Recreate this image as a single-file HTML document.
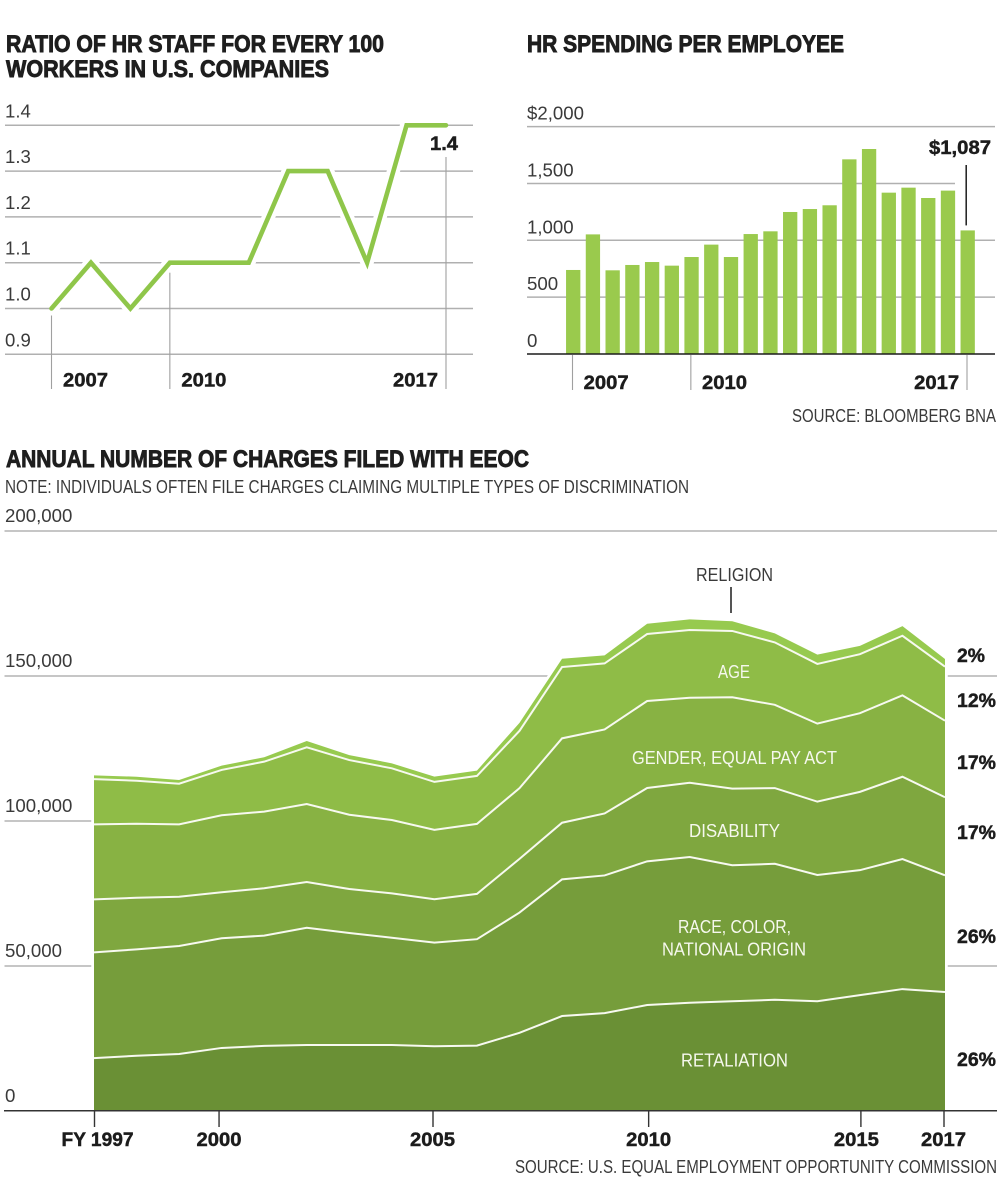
<!DOCTYPE html>
<html lang="en">
<head>
<meta charset="utf-8">
<title>HR staffing, spending and EEOC charges</title>
<style>
html,body{margin:0;padding:0;background:#fff}
svg{display:block}
text{font-family:"Liberation Sans",sans-serif;fill:#2b2b2b}
.title{font-size:24px;font-weight:700;fill:#1e1e1e;stroke:#1e1e1e;stroke-width:.9px}
.light{font-size:18px;fill:#3a3a3a}
.strong{font-size:19px;font-weight:700;fill:#1c1c1c;stroke:#1c1c1c;stroke-width:.45px}
.inner{font-size:18.5px;fill:#f6f8ee}
</style>
</head>
<body>
<svg id="fig" xmlns="http://www.w3.org/2000/svg" width="1002" height="1200" viewBox="0 0 1002 1200">
  <text class="title" x="6" y="52" textLength="378" lengthAdjust="spacingAndGlyphs">RATIO OF HR STAFF FOR EVERY 100</text>
  <text class="title" x="6" y="77" textLength="323" lengthAdjust="spacingAndGlyphs">WORKERS IN U.S. COMPANIES</text>
  <text class="title" x="527" y="52" textLength="317" lengthAdjust="spacingAndGlyphs">HR SPENDING PER EMPLOYEE</text>
  <text class="light" x="792" y="422" textLength="204" lengthAdjust="spacingAndGlyphs">SOURCE: BLOOMBERG BNA</text>
  <text class="title" x="6" y="467" textLength="523" lengthAdjust="spacingAndGlyphs">ANNUAL NUMBER OF CHARGES FILED WITH EEOC</text>
  <text class="light" x="5" y="493" textLength="684" lengthAdjust="spacingAndGlyphs">NOTE: INDIVIDUALS OFTEN FILE CHARGES CLAIMING MULTIPLE TYPES OF DISCRIMINATION</text>
  <text class="light" x="515" y="1173" textLength="482" lengthAdjust="spacingAndGlyphs">SOURCE: U.S. EQUAL EMPLOYMENT OPPORTUNITY COMMISSION</text>
</svg>
<script>
/* ---------- Ratio line chart data ---------- */
const ratioYears = [2007,2008,2009,2010,2011,2012,2013,2014,2015,2016,2017];
const ratioValues = [1.0,1.1,1.0,1.1,1.1,1.1,1.3,1.3,1.1,1.4,1.4];
const ratioTicks = [0.9,1.0,1.1,1.2,1.3,1.4];
const ratioTickLabels = ['0.9','1.0','1.1','1.2','1.3','1.4'];
const ratioYearTicks = [2007,2010,2017];
const ratioCallout = '1.4';

/* ---------- Spending bar chart data ---------- */
const spendPeriods = [2007,2007.5,2008,2008.5,2009,2009.5,2010,2010.5,2011,2011.5,2012,2012.5,2013,2013.5,2014,2014.5,2015,2015.5,2016,2016.5,2017];
const spendValues = [739,1052,736,783,809,777,853,962,853,1055,1079,1249,1275,1308,1712,1803,1419,1463,1372,1437,1087];
const spendTicks = [0,500,1000,1500,2000];
const spendTickLabels = ['0','500','1,000','1,500','$2,000'];
const spendYearTicks = [2007,2010,2017];
const spendCallout = '$1,087';

/* ---------- EEOC stacked area data ---------- */
const chargeYears = [1997,1998,1999,2000,2001,2002,2003,2004,2005,2006,2007,2008,2009,2010,2011,2012,2013,2014,2015,2016,2017];
const retaliation = [17900,18700,19300,21400,22100,22400,22400,22400,22000,22200,26600,32400,33400,36200,37000,37500,38000,37500,39600,41700,40700];
const raceColorOrigin = [36450,36700,37240,37830,38030,40450,38620,37000,35720,36700,41480,47140,47480,49550,50240,46900,46900,43550,43100,44830,40240];
const disability = [18280,17790,17000,15860,16340,15760,15170,15310,14970,15620,18520,19520,21380,25280,25620,26410,26100,25280,27000,28380,26900];
const genderEqualPay = [25860,25520,24970,26550,26410,26900,25620,25280,23900,24140,24380,29100,28970,30000,29310,31520,28720,26900,27140,28070,26410];
const age = [15620,14830,14000,15620,17240,19550,18860,17830,16550,16550,19760,24590,22760,23100,23340,22860,21520,20590,20340,20550,18620];
const religion = [1280,1380,1280,1480,1520,2170,1720,1720,1830,1830,2760,2860,2760,3550,3690,3340,3100,3210,2860,3340,2660];
const chargeTicks = [0,50000,100000,150000,200000];
const chargeTickLabels = ['0','50,000','100,000','150,000','200,000'];
const chargeYearTicks = [1997,2000,2005,2010,2015,2017];
const chargeYearLabels = ['FY 1997','2000','2005','2010','2015','2017'];
const sharePercents = ['26%','26%','17%','17%','12%','2%'];

const NS = 'http://www.w3.org/2000/svg';
const fig = document.getElementById('fig');

function make(tag, attrs, parent) {
  const el = document.createElementNS(NS, tag);
  for (const k in attrs) el.setAttribute(k, attrs[k]);
  (parent || fig).appendChild(el);
  return el;
}
function lightWidth(s) {
  const digits = s.replace(/[^0-9$]/g, '').length;
  return digits * 10.4 + (s.length - digits) * 5;
}
function label(str, x, y, cls, width, anchor, parent) {
  const t = make('text', {x: x, y: y, class: cls, textLength: width, lengthAdjust: 'spacingAndGlyphs', 'text-anchor': anchor || 'start'}, parent);
  t.textContent = str;
  return t;
}

/* ---------- Ratio line chart ---------- */
const ratioG = make('g', {});


const ratioX = v => 51.5 + (v - 2007) * 39.45;
const ratioY = v => 308.5 - (v - 1.0) * 458;

ratioTicks.forEach((t, i) => {
  const g = make('line', {x1: 5, x2: 473, y1: ratioY(t), y2: ratioY(t), stroke: '#b0b0b0', 'stroke-width': 1.5}, ratioG);
  
  
  const l = label(ratioTickLabels[i], 5, ratioY(t) - 8, 'light', lightWidth(ratioTickLabels[i]), 'start', ratioG);
  
  
});
const ratioHaloPts = ratioYears.map((y, i) => ratioX(y) + ',' + ratioY(ratioValues[i])).join(' ');
const ratioHalo = make('polyline', {points: ratioHaloPts, fill: 'none', stroke: '#fff', 'stroke-width': 13, 'stroke-linejoin': 'miter', 'stroke-linecap': 'butt'}, ratioG);


ratioYearTicks.forEach(y => {
  const idx = ratioYears.indexOf(y);
  const top = y === 2017 ? 157 : ratioY(ratioValues[idx]) + (y === 2007 ? 7 : 10);
  const m = make('line', {x1: ratioX(y), x2: ratioX(y), y1: top, y2: 389, stroke: '#a0a0a0', 'stroke-width': 1.1}, ratioG);
  
  
  const l = label(String(y), ratioX(y) + (y === 2017 ? -53 : 11.5), 386.5, 'strong', 45, 'start', ratioG);
  
  
});
const ratioLine = make('polyline', {points: ratioHaloPts, fill: 'none', stroke: '#8fc64a', 'stroke-width': 4.6, 'stroke-linejoin': 'miter', 'stroke-linecap': 'round'}, ratioG);


const ratioVal = label(ratioCallout, 430, 150, 'strong', 28, 'start', ratioG);



/* ---------- Spending bar chart ---------- */
const spendG = make('g', {});


const spendX = v => 573.2 + (v - 2007) * 39.45;
const spendY = v => 354 - v * 0.1137;
const BAR_W = 14.3;

spendTicks.forEach((t, i) => {
  const isBase = t === 0;
  const g = make('line', {x1: 527, x2: t === 1500 ? 955 : 995, y1: spendY(t), y2: spendY(t), stroke: '#b0b0b0', 'stroke-width': 1.5}, spendG);
  
  
  if (isBase) g.setAttribute('opacity', '0');
  const l = label(spendTickLabels[i], 527, spendY(t) - 7, 'light', lightWidth(spendTickLabels[i]), 'start', spendG);
  
  
});
spendPeriods.forEach((p, i) => {
  const b = make('rect', {x: spendX(p) - BAR_W / 2, y: spendY(spendValues[i]), width: BAR_W, height: spendY(0) - spendY(spendValues[i]), fill: '#9aca4d'}, spendG);
  
  
});
const spendBase = make('line', {x1: 527, x2: 995, y1: spendY(0), y2: spendY(0), stroke: '#1c1c1c', 'stroke-width': 1.6}, spendG);


spendYearTicks.forEach(y => {
  const m = make('line', {x1: spendX(y) - 0.7, x2: spendX(y) - 0.7, y1: 355, y2: 390, stroke: '#a0a0a0', 'stroke-width': 1.1}, spendG);
  
  
  const l = label(String(y), spendX(y) + (y === 2017 ? -53.5 : 10.5), 389, 'strong', 45, 'start', spendG);
  
  
});
const lastSpend = spendValues[spendValues.length - 1];
const spendLeader = make('line', {x1: spendX(2017) - 1.5, x2: spendX(2017) - 1.5, y1: 165, y2: spendY(lastSpend) - 5, stroke: '#1c1c1c', 'stroke-width': 1.5}, spendG);


const spendVal = label(spendCallout, 929, 154, 'strong', 62, 'start', spendG);



/* ---------- EEOC stacked area ---------- */
const chargeG = make('g', {});


const chargeX = v => 94 + (v - 1997) * 42.55;
const chargeY = v => 1110 - v * 0.0029;

chargeTicks.forEach((t, i) => {
  if (t > 0) {
    const g = make('line', {x1: 4.5, x2: t === 100000 ? 92 : 997, y1: chargeY(t) + 1, y2: chargeY(t) + 1, stroke: '#b4b4b4', 'stroke-width': 1.5}, chargeG);
    
    
  }
  const l = label(chargeTickLabels[i], 5, chargeY(t) - 8, 'light', lightWidth(chargeTickLabels[i]), 'start', chargeG);
  
  
});

const layers = [retaliation, raceColorOrigin, disability, genderEqualPay, age, religion];
const layerColors = ['#6a9035', '#769d3b', '#7fa73f', '#88b243', '#8fbc47', '#97ca4f'];
const layerNames = ['retaliation', 'race-color-origin', 'disability', 'gender-equal-pay', 'age', 'religion'];
const stacks = [];
let running = chargeYears.map(() => 0);
layers.forEach(series => {
  const base = running;
  const top = series.map((v, i) => base[i] + v);
  stacks.push({base: base, top: top});
  running = top;
});
const linePts = arr => chargeYears.map((y, i) => chargeX(y) + ',' + chargeY(arr[i]));

const outer = linePts(stacks[5].top).concat([chargeX(2017) + ',' + chargeY(0), chargeX(1997) + ',' + chargeY(0)]).join(' ');
const areaHalo = make('polygon', {points: outer, fill: '#fff', stroke: '#fff', 'stroke-width': 5.5, 'stroke-linejoin': 'miter'}, chargeG);



layers.forEach((series, k) => {
  const s = stacks[k];
  const pts = linePts(s.top).concat(linePts(s.base).reverse()).join(' ');
  const a = make('polygon', {points: pts, fill: layerColors[k]}, chargeG);
  
  
});
for (let k = 0; k < 5; k++) {
  const l = make('polyline', {points: linePts(stacks[k].top).join(' '), fill: 'none', stroke: '#f7f9f0', 'stroke-width': 2, 'stroke-linejoin': 'miter'}, chargeG);
  
  
}
const chargeBase = make('line', {x1: 4, x2: 997, y1: chargeY(0) + 0.8, y2: chargeY(0) + 0.8, stroke: '#333', 'stroke-width': 1.5}, chargeG);



/* Printed axis in the source sits slightly off a strict linear year scale */
const tickNudge = {1997: 0.5, 2000: -2.6, 2005: -1.4, 2010: 1.5, 2015: 1, 2017: -1};
const labelShift = {1997: -33, 2000: -22.5, 2005: -23, 2010: -22.5, 2015: -27, 2017: -23};
chargeYearTicks.forEach((y, i) => {
  const tx = chargeX(y) + tickNudge[y];
  const m = make('line', {x1: tx, x2: tx, y1: 1110, y2: 1127, stroke: '#333', 'stroke-width': 1.4}, chargeG);
  
  
  const w = i === 0 ? 72 : 45;
  const l = label(chargeYearLabels[i], tx + labelShift[y], 1146, 'strong', w, 'start', chargeG);
  
  
});

const shareBaselines = [1066, 943, 839, 769, 707, 662];
sharePercents.forEach((p, i) => {
  const l = label(p, 957, shareBaselines[i], 'strong', p.length === 2 ? 28 : 39, 'start', chargeG);
  
  
});

const relLabel = label('RELIGION', 696, 581, 'light', 77, 'start', chargeG);


const relLeader = make('line', {x1: 731, x2: 731, y1: 587, y2: 613, stroke: '#1c1c1c', 'stroke-width': 1.5}, chargeG);



const ageLabel = label('AGE', 718, 678, 'inner', 32, 'start', chargeG);


const genderLabel = label('GENDER, EQUAL PAY ACT', 632, 764, 'inner', 205, 'start', chargeG);


const disabilityLabel = label('DISABILITY', 689, 837, 'inner', 91, 'start', chargeG);


const raceLabel1 = label('RACE, COLOR,', 678, 933, 'inner', 113, 'start', chargeG);


const raceLabel2 = label('NATIONAL ORIGIN', 662, 955.5, 'inner', 144, 'start', chargeG);


const retLabel = label('RETALIATION', 681, 1066.5, 'inner', 107, 'start', chargeG);


</script>
</body>
</html>
